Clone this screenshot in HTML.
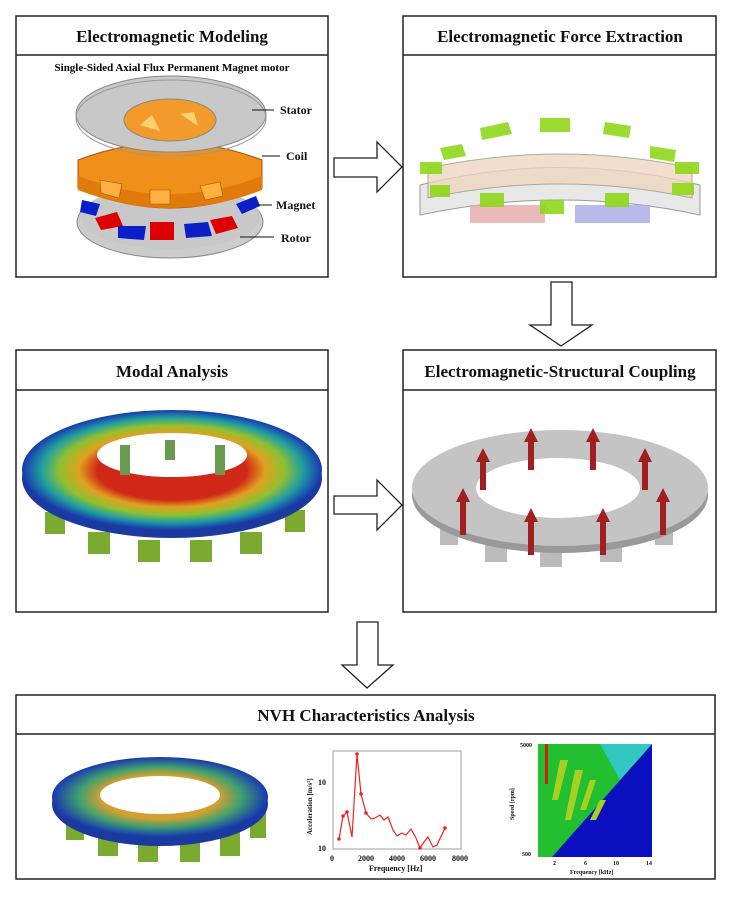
<!DOCTYPE html>
<html><head><meta charset="utf-8"><style>
body{margin:0;background:#fff;}
svg text{font-family:"Liberation Serif",serif;font-weight:bold;}
</style></head><body>
<svg width="732" height="896" viewBox="0 0 732 896" xmlns="http://www.w3.org/2000/svg">
<defs>
<radialGradient id="modal" cx="50%" cy="50%" r="50%">
<stop offset="0.5" stop-color="#d02818"/>
<stop offset="0.62" stop-color="#e0a020"/>
<stop offset="0.75" stop-color="#90c030"/>
<stop offset="0.87" stop-color="#20a0a0"/>
<stop offset="1" stop-color="#1838b0"/>
</radialGradient>
<radialGradient id="nvh" cx="50%" cy="50%" r="50%">
<stop offset="0.55" stop-color="#d0a030"/>
<stop offset="0.75" stop-color="#40a070"/>
<stop offset="1" stop-color="#1838b0"/>
</radialGradient>
</defs>
<rect width="732" height="896" fill="#fff"/>
<g fill="none" stroke="#222" stroke-width="1.5">
<rect x="16" y="16" width="312" height="261"/><line x1="16" y1="55" x2="328" y2="55"/>
<rect x="403" y="16" width="313" height="261"/><line x1="403" y1="55" x2="716" y2="55"/>
<rect x="16" y="350" width="312" height="262"/><line x1="16" y1="390" x2="328" y2="390"/>
<rect x="403" y="350" width="313" height="262"/><line x1="403" y1="390" x2="716" y2="390"/>
<rect x="16" y="695" width="699" height="184"/><line x1="16" y1="734" x2="715" y2="734"/>
</g>
<g fill="#fff" stroke="#222" stroke-width="1.3">
<polygon points="334,158 377,158 377,142 402,167 377,192 377,177 334,177"/>
<polygon points="334,496 377,496 377,480 402,505 377,530 377,514 334,514"/>
<polygon points="551,282 572,282 572,325 592,325 561,346 530,325 551,325"/>
<polygon points="357,622 378,622 378,665 393,665 367,688 342,665 357,665"/>
</g>
<g font-size="17" text-anchor="middle" fill="#111">
<text x="172" y="42">Electromagnetic Modeling</text>
<text x="560" y="42">Electromagnetic Force Extraction</text>
<text x="172" y="377">Modal Analysis</text>
<text x="560" y="377">Electromagnetic-Structural Coupling</text>
<text x="366" y="721">NVH Characteristics Analysis</text>
</g>
<text x="172" y="71" font-size="11" text-anchor="middle">Single-Sided Axial Flux Permanent Magnet motor</text>
<!-- motor -->
<ellipse cx="170" cy="222" rx="93" ry="36" fill="#ccc" stroke="#888"/>
<ellipse cx="170" cy="217" rx="90" ry="32" fill="#c8c8c8"/>
<g fill="#d00"><path d="M95,218 l22,-6 l6,14 l-22,4z"/><path d="M150,222 l24,0 l0,18 l-24,0z"/><path d="M210,220 l22,-4 l6,12 l-22,6z"/></g>
<g fill="#0a1fc8"><path d="M118,226 l28,0 l-2,14 l-26,-2z"/><path d="M184,224 l24,-2 l4,14 l-26,2z"/><path d="M82,200 l18,4 l-4,12 l-16,-4z"/><path d="M236,204 l20,-8 l4,10 l-18,8z"/></g>
<path d="M78,160 Q170,125 262,160 L262,188 Q170,228 78,188z" fill="#f0901a" stroke="#a85000"/>
<path d="M78,176 Q170,212 262,176 L262,190 Q170,226 78,190z" fill="#e07a0a"/>
<g fill="#ffb040" stroke="#a85000" stroke-width="0.6"><path d="M100,180 l22,4 l-3,14 l-18,-5z"/><path d="M150,190 l20,0 l0,14 l-20,0z"/><path d="M200,186 l20,-4 l3,14 l-18,4z"/></g>
<ellipse cx="171" cy="114" rx="95" ry="38" fill="#c8c8c8" stroke="#888"/>
<ellipse cx="171" cy="118" rx="95" ry="38" fill="none" stroke="#999"/>
<ellipse cx="170" cy="120" rx="46" ry="21" fill="#f29a2a" stroke="#888"/>
<path d="M140,125 l12,-10 l8,16z M180,114 l14,-2 l4,14z" fill="#ffd070"/>
<g font-size="12" fill="#111"><text x="280" y="114">Stator</text><text x="286" y="160">Coil</text><text x="276" y="209">Magnet</text><text x="281" y="242">Rotor</text></g>
<g stroke="#111" stroke-width="1"><line x1="252" y1="110" x2="274" y2="110"/><line x1="262" y1="156" x2="280" y2="156"/><line x1="258" y1="205" x2="272" y2="205"/><line x1="240" y1="237" x2="274" y2="237"/></g>
<!-- force extraction -->
<path d="M420,185 Q560,150 700,185 L700,215 Q560,185 420,215z" fill="#e8e8e8" stroke="#999"/>
<path d="M428,168 Q560,140 692,168 L692,198 Q560,170 428,198z" fill="#efd6c0" stroke="#998" opacity="0.8"/>
<rect x="470" y="205" width="75" height="18" fill="#e5a8a8" opacity="0.8"/>
<rect x="575" y="205" width="75" height="18" fill="#a8a8e5" opacity="0.8"/>
<g fill="#8ed81a" opacity="0.9">
<path d="M480,128 l28,-6 l4,12 l-30,6z"/><path d="M540,118 l30,0 l0,14 l-30,0z"/><path d="M605,122 l26,4 l-2,12 l-26,-4z"/>
<path d="M440,148 l22,-4 l4,12 l-22,4z"/><path d="M650,146 l26,4 l-2,12 l-24,-4z"/>
<path d="M420,162 l22,0 l0,12 l-22,0z"/><path d="M675,162 l24,0 l0,12 l-24,0z"/>
<path d="M430,185 l20,0 l0,12 l-20,0z"/><path d="M672,183 l22,0 l0,12 l-22,0z"/>
<path d="M480,193 l24,0 l0,14 l-24,0z"/><path d="M540,200 l24,0 l0,14 l-24,0z"/><path d="M605,193 l24,0 l0,14 l-24,0z"/>
</g>
<!-- modal -->
<g fill="#7aaa30"><rect x="45" y="512" width="20" height="22"/><rect x="88" y="532" width="22" height="22"/><rect x="138" y="540" width="22" height="22"/><rect x="190" y="540" width="22" height="22"/><rect x="240" y="532" width="22" height="22"/><rect x="285" y="510" width="20" height="22"/></g>
<ellipse cx="172" cy="478" rx="150" ry="60" fill="#1a3aa0"/>
<ellipse cx="172" cy="470" rx="150" ry="60" fill="url(#modal)"/>
<ellipse cx="172" cy="455" rx="75" ry="22" fill="#fff"/>
<g fill="#6a9a50"><rect x="120" y="445" width="10" height="30"/><rect x="215" y="445" width="10" height="30"/><rect x="165" y="440" width="10" height="20"/></g>
<!-- coupling -->
<g fill="#bbb"><rect x="440" y="525" width="18" height="20"/><rect x="485" y="540" width="22" height="22"/><rect x="540" y="545" width="22" height="22"/><rect x="600" y="540" width="22" height="22"/><rect x="655" y="525" width="18" height="20"/></g>
<ellipse cx="560" cy="495" rx="148" ry="58" fill="#999"/>
<ellipse cx="560" cy="488" rx="148" ry="58" fill="#c4c4c4"/>
<ellipse cx="558" cy="488" rx="82" ry="30" fill="#fff"/>
<g fill="#a02020">
<rect x="480" y="460" width="6" height="30"/><polygon points="476,462 483,448 490,462"/>
<rect x="528" y="440" width="6" height="30"/><polygon points="524,442 531,428 538,442"/>
<rect x="590" y="440" width="6" height="30"/><polygon points="586,442 593,428 600,442"/>
<rect x="642" y="460" width="6" height="30"/><polygon points="638,462 645,448 652,462"/>
<rect x="460" y="500" width="6" height="35"/><polygon points="456,502 463,488 470,502"/>
<rect x="528" y="520" width="6" height="35"/><polygon points="524,522 531,508 538,522"/>
<rect x="600" y="520" width="6" height="35"/><polygon points="596,522 603,508 610,522"/>
<rect x="660" y="500" width="6" height="35"/><polygon points="656,502 663,488 670,502"/>
</g>
<!-- NVH motor -->
<g fill="#7aaa30"><rect x="66" y="812" width="18" height="28"/><rect x="98" y="826" width="20" height="30"/><rect x="138" y="832" width="20" height="30"/><rect x="180" y="832" width="20" height="30"/><rect x="220" y="826" width="20" height="30"/><rect x="250" y="812" width="16" height="26"/></g>
<ellipse cx="160" cy="804" rx="108" ry="42" fill="#1a3aa0"/>
<ellipse cx="160" cy="797" rx="108" ry="40" fill="url(#nvh)"/>
<ellipse cx="160" cy="795" rx="60" ry="19" fill="#fff"/>
<!-- line chart -->
<rect x="333" y="751" width="128" height="98" fill="#fff" stroke="#888" stroke-width="0.8"/>
<polyline fill="none" stroke="#e22" stroke-width="1.2" points="339,839 343,816 347,812 352,837 357,754 361,794 366,813 371,819 375,818 380,815 384,820 388,817 393,830 397,836 402,833 406,835 411,829 416,838 420,848 424,842 428,837 433,847 437,845 445,828"/>
<g fill="#e22"><circle cx="357" cy="754" r="1.8"/><circle cx="361" cy="794" r="1.8"/><circle cx="366" cy="813" r="1.8"/><circle cx="343" cy="816" r="1.8"/><circle cx="347" cy="812" r="1.8"/><circle cx="445" cy="828" r="1.8"/><circle cx="339" cy="839" r="1.8"/><circle cx="420" cy="848" r="1.8"/></g>
<g font-size="8" fill="#111"><text x="330" y="861" font-size="8">0</text><text x="358" y="861">2000</text><text x="389" y="861">4000</text><text x="420" y="861">6000</text><text x="452" y="861">8000</text>
<text x="369" y="871">Frequency [Hz]</text><text x="318" y="785">10</text><text x="318" y="851">10</text>
<text transform="translate(312,835) rotate(-90)" font-size="7">Acceleration [m/s²]</text></g>
<!-- contour -->
<rect x="538" y="744" width="114" height="113" fill="#0a10c0"/>
<polygon points="538,744 652,744 552,857 538,857" fill="#22c030"/>
<polygon points="600,744 652,744 620,780" fill="#30c8c0"/>
<g fill="#a8d020"><path d="M560,760 l8,0 l-10,40 l-6,0z"/><path d="M575,770 l8,0 l-12,50 l-6,0z"/><path d="M590,780 l6,0 l-10,30 l-6,0z"/><path d="M600,800 l6,0 l-10,20 l-6,0z"/></g>
<rect x="545" y="744" width="3" height="40" fill="#d02010"/>
<g font-size="6" fill="#111"><text x="520" y="747">5000</text><text x="522" y="856">500</text><text x="553" y="865">2</text><text x="584" y="865">6</text><text x="613" y="865">10</text><text x="646" y="865">14</text><text x="570" y="874">Frequency [kHz]</text>
<text transform="translate(514,820) rotate(-90)">Speed [rpm]</text></g>
</svg>
</body></html>
